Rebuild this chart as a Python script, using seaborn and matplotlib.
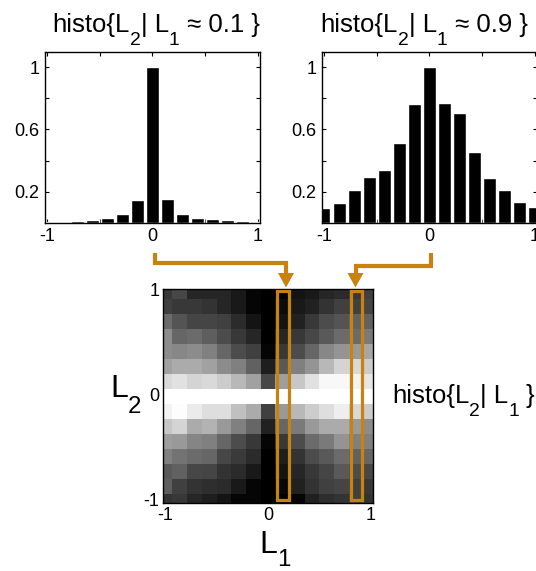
import matplotlib

matplotlib.use("Agg")
import matplotlib.pyplot as plt
import numpy as np
import pandas as pd
import seaborn as sns
from matplotlib.patches import Rectangle

# Bin centres shared by the histograms and the 2-D histogram
l2_centres = np.round(np.linspace(-1, 1, 15), 3)
l1_centres = np.round(np.linspace(-1, 1, 15), 3)

# histo{L2 | L1 ~ 0.1}
hist_l1_01 = [0.003, 0.005, 0.010, 0.020, 0.030, 0.058, 0.145, 1.0,
              0.150, 0.058, 0.033, 0.022, 0.015, 0.010, 0.005]
# histo{L2 | L1 ~ 0.9}
hist_l1_09 = [0.094, 0.126, 0.208, 0.293, 0.338, 0.513, 0.761, 1.0,
              0.769, 0.708, 0.456, 0.287, 0.211, 0.130, 0.100]

# Conditional histogram image (grey level), rows from L2 = 1 down to L2 = -1
hist_2d = [
    [0.22, 0.28, 0.15, 0.15, 0.15, 0.10, 0.02, 0.00, 0.00, 0.08, 0.10, 0.15, 0.17, 0.22, 0.25],
    [0.25, 0.22, 0.22, 0.20, 0.15, 0.10, 0.02, 0.00, 0.05, 0.10, 0.13, 0.20, 0.25, 0.25, 0.27],
    [0.42, 0.33, 0.27, 0.27, 0.25, 0.17, 0.08, 0.00, 0.08, 0.13, 0.22, 0.30, 0.33, 0.38, 0.38],
    [0.55, 0.40, 0.42, 0.37, 0.30, 0.22, 0.15, 0.00, 0.15, 0.22, 0.28, 0.35, 0.42, 0.42, 0.48],
    [0.55, 0.53, 0.55, 0.50, 0.40, 0.30, 0.25, 0.02, 0.22, 0.30, 0.40, 0.53, 0.58, 0.60, 0.65],
    [0.63, 0.67, 0.67, 0.63, 0.55, 0.50, 0.38, 0.12, 0.35, 0.50, 0.58, 0.72, 0.83, 0.85, 0.80],
    [0.85, 0.88, 0.83, 0.85, 0.80, 0.72, 0.63, 0.28, 0.62, 0.78, 0.88, 0.97, 0.97, 0.95, 0.90],
    [1.00, 1.00, 1.00, 1.00, 1.00, 1.00, 1.00, 1.00, 1.00, 1.00, 1.00, 1.00, 1.00, 1.00, 1.00],
    [0.95, 0.99, 0.92, 0.87, 0.87, 0.75, 0.67, 0.25, 0.60, 0.72, 0.80, 0.87, 0.93, 0.85, 0.80],
    [0.78, 0.83, 0.67, 0.70, 0.60, 0.50, 0.40, 0.13, 0.40, 0.48, 0.60, 0.67, 0.67, 0.60, 0.55],
    [0.62, 0.60, 0.52, 0.50, 0.40, 0.30, 0.22, 0.02, 0.22, 0.30, 0.42, 0.48, 0.58, 0.50, 0.50],
    [0.50, 0.45, 0.42, 0.40, 0.28, 0.23, 0.17, 0.00, 0.12, 0.20, 0.30, 0.35, 0.42, 0.38, 0.40],
    [0.35, 0.38, 0.28, 0.27, 0.20, 0.17, 0.10, 0.00, 0.08, 0.15, 0.22, 0.27, 0.35, 0.30, 0.28],
    [0.37, 0.25, 0.20, 0.18, 0.17, 0.10, 0.02, 0.00, 0.03, 0.13, 0.20, 0.25, 0.27, 0.25, 0.22],
    [0.20, 0.22, 0.15, 0.12, 0.08, 0.02, 0.02, 0.00, 0.00, 0.02, 0.13, 0.18, 0.20, 0.25, 0.20],
]

# (text, is_subscript) pieces for the labels
title_01 = [("histo{L", False), ("2", True), ("| L", False), ("1", True), (" ≈ 0.1 }", False)]
title_09 = [("histo{L", False), ("2", True), ("| L", False), ("1", True), (" ≈ 0.9 }", False)]
map_label = [("histo{L", False), ("2", True), ("| L", False), ("1", True), (" }", False)]
l2_label = [("L", False), ("2", True)]
l1_label = [("L", False), ("1", True)]

hist_yticks = [0.2, 0.4, 0.6, 0.8, 1.0]
hist_ytick_labels = ["0.2", "", "0.6", "", "1"]
hist_xticks = [-1, -0.5, 0, 0.5, 1]
hist_xtick_labels = ["-1", "", "0", "", "1"]
map_ticks = [-1, -0.8, -0.6, -0.4, -0.2, 0, 0.2, 0.4, 0.6, 0.8, 1]
map_tick_labels = ["-1", "", "", "", "", "0", "", "", "", "", "1"]

ORANGE = "#c8820f"
W, H = 536, 571

sns.set_style("ticks")
plt.rcParams["font.family"] = ["Liberation Sans", "DejaVu Sans"]
plt.rcParams["axes.unicode_minus"] = False
plt.rcParams["text.color"] = "black"
plt.rcParams["xtick.color"] = "black"
plt.rcParams["ytick.color"] = "black"
plt.rcParams["axes.labelcolor"] = "black"

fig = plt.figure(figsize=(W / 100, H / 100), dpi=100)
renderer = fig.canvas.get_renderer()


def rich_text(x, y, pieces, size, ha="left", sub_scale=0.75, sub_drop=0.52):
    # Draw text with subscripts piece by piece; x, y = baseline in pixels
    texts = []
    for s, sub in pieces:
        t = fig.text(0, 0, s, fontsize=size * sub_scale if sub else size,
                     ha="left", va="baseline")
        texts.append((t, sub))
    widths = [t.get_window_extent(renderer).width for t, _ in texts]
    x0 = x - sum(widths) / 2 if ha == "center" else x
    for (t, sub), w in zip(texts, widths):
        yy = y + (sub_drop * size * 100 / 72 if sub else 0)
        t.set_position((x0 / W, 1 - yy / H))
        x0 += w


# --- top histograms ---------------------------------------------------------
hist_rects = [[0.084, 0.610, 0.401, 0.2995], [0.6007, 0.610, 0.401, 0.2995]]
for rect, values in zip(hist_rects, [hist_l1_01, hist_l1_09]):
    ax = fig.add_axes(rect)
    df = pd.DataFrame({"l2": l2_centres, "count": values})
    sns.barplot(data=df, x="l2", y="count", color="black", width=0.85,
                native_scale=True, saturation=1, ax=ax)
    ax.set_xlim(-1.02, 1.02)
    ax.set_ylim(0, 1.1)
    ax.set_xticks(hist_xticks)
    ax.set_xticklabels(hist_xtick_labels)
    ax.set_yticks(hist_yticks)
    ax.set_yticklabels(hist_ytick_labels)
    ax.set_xlabel("")
    ax.set_ylabel("")
    ax.tick_params(direction="in", top=True, right=True, length=3,
                   width=0.8, labelsize=13, pad=4)
    for sp in ax.spines.values():
        sp.set_visible(True)
        sp.set_linewidth(1.0)
        sp.set_color("black")

rich_text(156, 32, title_01, 18.5, ha="center")
rich_text(424, 32, title_09, 18.5, ha="center")

# --- 2-D conditional histogram ---------------------------------------------
axm = fig.add_axes([0.3047, 0.1191, 0.3903, 0.3743])
map_df = pd.DataFrame(hist_2d, index=l2_centres[::-1], columns=l1_centres)
sns.heatmap(map_df, cmap="gray", vmin=0, vmax=1, cbar=False, ax=axm)
axm.set_xlim(0.38, 14.62)
axm.set_ylim(14.62, 0.38)
tick_x = [7.5 + 7 * v for v in map_ticks]
tick_y = [7.5 - 7 * v for v in map_ticks]
axm.set_xticks(tick_x)
axm.set_xticklabels(map_tick_labels, rotation=0, fontsize=13)
axm.set_yticks(tick_y)
axm.set_yticklabels(map_tick_labels, rotation=0, fontsize=13)
axm.set_xlabel("")
axm.set_ylabel("")
axm.tick_params(direction="in", top=True, right=True, length=3,
                width=0.8, pad=3)
for sp in axm.spines.values():
    sp.set_visible(True)
    sp.set_linewidth(1.0)
    sp.set_color("black")

# highlighted columns (L1 ~ 0.1 and L1 ~ 0.9)
for col in [8, 13]:
    axm.add_patch(Rectangle((col + 0.15, 0.47), 0.78, 13.93, fill=False,
                            edgecolor=ORANGE, linewidth=2.3, zorder=5))

rich_text(110, 397, l2_label, 23, sub_scale=0.75, sub_drop=0.5)
rich_text(259, 553, l1_label, 23, sub_scale=0.75, sub_drop=0.42)
rich_text(392, 403, map_label, 18.5)

# --- connectors from histograms to highlighted columns ----------------------
ov = fig.add_axes([0, 0, 1, 1], zorder=10)
ov.set_xlim(0, W)
ov.set_ylim(H, 0)
ov.axis("off")
ov.plot([155, 155, 286, 286], [253, 262.5, 262.5, 276], color=ORANGE, lw=3,
        solid_joinstyle="miter", solid_capstyle="butt")
ov.fill([278, 294, 286], [273, 273, 287.5], color=ORANGE, lw=0)
ov.plot([431, 431, 355.5, 355.5], [253, 265.5, 265.5, 276], color=ORANGE, lw=3,
        solid_joinstyle="miter", solid_capstyle="butt")
ov.fill([347.5, 363.5, 355.5], [273, 273, 287.5], color=ORANGE, lw=0)

fig.savefig("out.png", dpi=100)
